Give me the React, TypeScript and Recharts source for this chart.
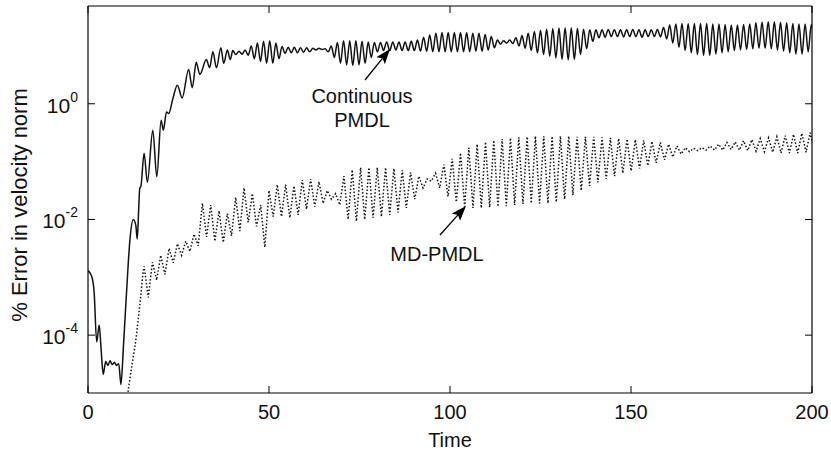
// App.tsx
import React from "react";
import { LineChart, Line, XAxis, YAxis } from "recharts";

const FONT = "'Liberation Sans', Arial, Helvetica, sans-serif";

const X_TICKS = [0, 50, 100, 150, 200];
const Y_TICKS = [1e-4, 1e-2, 1];
const Y_TICK_EXPONENTS: Record<string, string> = { "0.0001": "-4", "0.01": "-2", "1": "0" };

// Continuous PMDL — irregular start, read point by point
const contStartTimes = [
  0, 1.0, 1.7, 2.4, 3.1, 3.6, 4.2, 4.9, 5.5, 6.1, 6.7, 7.3, 7.9, 8.5, 9.1, 9.8, 10.7,
  11.6, 12.5, 13.2, 13.6, 14.0, 14.3, 14.6, 15.5, 16.4, 17.9, 19.0, 20.2, 20.8, 21.7,
  22.3, 23.4, 24.7, 26.0, 27.8, 28.8, 29.9, 30.9, 32.7, 33.6, 34.5, 35.5, 36.7, 37.5,
  38.5, 39.3,
];
const contStartValues = [
  1.3e-3, 1.05e-3, 5.5e-4, 7.6e-5, 1.5e-4, 6e-5, 2.1e-5, 3.5e-5, 3.0e-5, 3.6e-5, 3.1e-5,
  3.4e-5, 3.0e-5, 3.2e-5, 1.4e-5, 6.6e-5, 6.3e-4, 4.6e-3, 1.0e-2, 8e-3, 4.6e-3, 1.5e-2,
  3.5e-2, 3.7e-2, 0.14, 0.044, 0.35, 0.055, 0.52, 0.35, 0.72, 0.68, 1.2, 2.1, 1.26, 3.9,
  1.9, 5.2, 3.2, 5.8, 4.2, 7.9, 4.2, 9.3, 5.0, 8.5, 5.8,
];
// Continuous PMDL — steady oscillation, one peak and one trough per period
const CONT_OSC_START = 40;
const CONT_OSC_PERIOD = 1.7;
const contPeaks = [
  8.3, 8.1, 8.5, 10, 11.2, 12, 12.3, 11.2, 9.8, 9.5,
  9.5, 9.3, 9.3, 9.1, 9.1, 8.9, 10, 11.5, 12.3, 12.3,
  12.3, 12, 11.7, 11.5, 11.5, 11.7, 11.7, 11.7, 11.7, 12,
  12.6, 14.1, 15.5, 16.6, 17, 17, 17, 17, 17, 16.6,
  16.6, 15.8, 14.5, 12.6, 12.3, 12.6, 13.8, 15.1, 16.6, 17.8,
  18.6, 19.5, 20, 20.4, 20.4, 20.4, 20, 19.5, 19.1, 19.1,
  19.1, 19.3, 19.1, 19, 19.1, 19.3, 19.1, 19, 19.1, 19.3,
  20.9, 22.9, 24, 24.5, 24.5, 24.5, 24.5, 24.5, 24, 24,
  23.4, 22.9, 22.9, 23.4, 24, 25.1, 25.7, 26.3, 26.3, 25.7,
  25.1, 24.5, 24, 24, 23.4,
];
const contTroughs = [
  7.1, 7.2, 6.9, 6.0, 5.4, 5.0, 5.0, 6.0, 7.4, 7.6,
  7.6, 7.8, 7.9, 8.5, 8.7, 7.9, 6.3, 5.0, 4.7, 4.6,
  4.7, 5.0, 6.3, 7.9, 8.3, 8.3, 8.5, 8.3, 8.3, 8.3,
  8.1, 8.1, 7.9, 7.9, 7.9, 7.9, 7.9, 7.9, 7.9, 8.1,
  8.1, 8.5, 9.3, 10.7, 11.2, 11, 10, 9.1, 8.3, 7.6,
  7.1, 6.6, 6.2, 5.9, 5.75, 5.9, 7.1, 8.9, 12, 13.8,
  14.1, 14.5, 14.5, 14.3, 14.5, 14.5, 14.1, 14.5, 14.5, 14.3,
  13.2, 11.2, 9.5, 8.3, 7.6, 7.1, 6.9, 6.9, 7.2, 7.6,
  7.9, 8.3, 8.5, 8.7, 8.9, 9.1, 9.1, 8.9, 8.5, 8.1,
  7.6, 7.2, 7.2, 7.9, 9.1,
];

// MD-PMDL — rising start
const mdStartTimes = [10.5, 11.0, 12.05, 13.26, 14.4, 15.1];
const mdStartValues = [6e-6, 1.0e-5, 2.8e-5, 8.5e-5, 3.7e-4, 1.05e-3];
// MD-PMDL — oscillation
const MD_OSC_START = 15.5;
const MD_OSC_PERIOD = 2.3;
const mdPeaks = [
  1.55e-3, 1.82e-3, 2.4e-3, 3.16e-3, 3.8e-3, 4.2e-3, 5.6e-3, 0.019, 0.0178, 0.0141,
  0.0126, 0.024, 0.035, 0.028, 0.0178, 0.0316, 0.04, 0.04, 0.038, 0.048,
  0.05, 0.045, 0.0316, 0.028, 0.056, 0.072, 0.079, 0.079, 0.079, 0.079,
  0.076, 0.071, 0.065, 0.056, 0.05, 0.063, 0.089, 0.112, 0.141, 0.174,
  0.2, 0.219, 0.234, 0.245, 0.257, 0.263, 0.269, 0.275, 0.275, 0.275,
  0.275, 0.275, 0.269, 0.269, 0.269, 0.263, 0.257, 0.251, 0.245, 0.24,
  0.234, 0.224, 0.214, 0.2, 0.186, 0.174, 0.17, 0.174, 0.186, 0.2,
  0.214, 0.219, 0.229, 0.24, 0.251, 0.257, 0.269, 0.282, 0.295, 0.309,
  0.316,
];
const mdTroughs = [
  4.5e-4, 8.9e-4, 1.12e-3, 1.78e-3, 2.4e-3, 2.8e-3, 3.5e-3, 5.0e-3, 4.2e-3, 4.0e-3,
  5.2e-3, 6.3e-3, 8.9e-3, 7.6e-3, 3.3e-3, 0.0112, 0.0112, 0.0107, 0.012, 0.015,
  0.0166, 0.019, 0.0224, 0.0178, 0.01, 0.0093, 0.01, 0.0107, 0.0112, 0.012,
  0.0132, 0.0158, 0.0224, 0.035, 0.046, 0.035, 0.025, 0.02, 0.0166, 0.0158,
  0.0158, 0.0162, 0.0166, 0.017, 0.0178, 0.0186, 0.019, 0.019, 0.019, 0.02,
  0.0224, 0.0263, 0.0316, 0.038, 0.0437, 0.05, 0.056, 0.063, 0.069, 0.076,
  0.085, 0.095, 0.107, 0.12, 0.135, 0.148, 0.155, 0.158, 0.158, 0.158,
  0.162, 0.158, 0.155, 0.151, 0.148, 0.145, 0.141, 0.141, 0.141, 0.145,
  0.145,
];

type Pt = { t: number; v: number };

function buildSeries(
  times: number[],
  values: number[],
  start: number,
  period: number,
  peaks: number[],
  troughs: number[]
): Pt[] {
  const pts: Pt[] = times.map((t, i) => ({ t, v: values[i] }));
  peaks.forEach((p, k) => {
    const t0 = start + k * period;
    pts.push({ t: +t0.toFixed(3), v: p });
    pts.push({ t: +(t0 + period / 2).toFixed(3), v: troughs[k] });
  });
  return pts;
}

const contData = buildSeries(contStartTimes, contStartValues, CONT_OSC_START, CONT_OSC_PERIOD, contPeaks, contTroughs);
const mdData = buildSeries(mdStartTimes, mdStartValues, MD_OSC_START, MD_OSC_PERIOD, mdPeaks, mdTroughs);

const TICK_LEN = 7;

const BottomTick = (props: any) => {
  const { x, y, payload } = props;
  return (
    <g>
      <line x1={x} x2={x} y1={y} y2={y - TICK_LEN} stroke="#000" strokeWidth={1} />
      <text x={x} y={y + 26} textAnchor="middle" fontSize={20} fontFamily={FONT} fill="#111">
        {payload.value}
      </text>
    </g>
  );
};

const TopTick = (props: any) => {
  const { x, y } = props;
  return <line x1={x} x2={x} y1={y} y2={y + TICK_LEN} stroke="#000" strokeWidth={1} />;
};

const LeftTick = (props: any) => {
  const { x, y, payload } = props;
  const exp = Y_TICK_EXPONENTS[String(payload.value)];
  return (
    <g>
      <line x1={x} x2={x + TICK_LEN} y1={y} y2={y} stroke="#000" strokeWidth={1} />
      <text x={x - 10} y={y + 9} textAnchor="end" fontSize={21} fontFamily={FONT} fill="#111">
        10
        <tspan dy={-11} fontSize={14}>
          {exp}
        </tspan>
      </text>
    </g>
  );
};

const RightTick = (props: any) => {
  const { x, y } = props;
  return <line x1={x} x2={x - TICK_LEN} y1={y} y2={y} stroke="#000" strokeWidth={1} />;
};

function Arrow({ x1, y1, x2, y2 }: { x1: number; y1: number; x2: number; y2: number }) {
  const dx = x2 - x1;
  const dy = y2 - y1;
  const len = Math.hypot(dx, dy);
  const ux = dx / len;
  const uy = dy / len;
  const head = 15;
  const half = 5.5;
  const bx = x2 - ux * head;
  const by = y2 - uy * head;
  const pts = `${x2},${y2} ${bx - uy * half},${by + ux * half} ${bx + ux * 3},${by + uy * 3} ${bx + uy * half},${by - ux * half}`;
  return (
    <g>
      <line x1={x1} y1={y1} x2={bx + ux * 3} y2={by + uy * 3} stroke="#000" strokeWidth={1.3} />
      <polygon points={pts} fill="#000" />
    </g>
  );
}

export default function App() {
  return (
    <div style={{ position: "absolute", left: 0, top: 0, width: 831, height: 454, background: "#fff" }}>
      <LineChart width={831} height={454} margin={{ top: 5, right: 18, bottom: 0, left: 0 }}>
        <XAxis
          xAxisId="bottom"
          dataKey="t"
          type="number"
          domain={[0, 200]}
          ticks={X_TICKS}
          allowDataOverflow
          height={61}
          tickSize={0}
          tickMargin={0}
          tickLine={false}
          axisLine={{ stroke: "#000", strokeWidth: 1.2 }}
          tick={<BottomTick />}
        />
        <XAxis
          xAxisId="top"
          orientation="top"
          dataKey="t"
          type="number"
          domain={[0, 200]}
          ticks={X_TICKS}
          allowDataOverflow
          height={1}
          tickSize={0}
          tickMargin={0}
          tickLine={false}
          axisLine={{ stroke: "#000", strokeWidth: 1.2 }}
          tick={<TopTick />}
        />
        <YAxis
          yAxisId="left"
          scale="log"
          type="number"
          domain={[1e-5, 49]}
          ticks={Y_TICKS}
          allowDataOverflow
          width={88}
          tickSize={0}
          tickMargin={0}
          tickLine={false}
          axisLine={{ stroke: "#000", strokeWidth: 1.2 }}
          tick={<LeftTick />}
        />
        <YAxis
          yAxisId="right"
          orientation="right"
          scale="log"
          type="number"
          domain={[1e-5, 49]}
          ticks={Y_TICKS}
          allowDataOverflow
          width={1}
          tickSize={0}
          tickMargin={0}
          tickLine={false}
          axisLine={{ stroke: "#000", strokeWidth: 1.2 }}
          tick={<RightTick />}
        />
        {/* invisible copy so the top / right frame axes get registered */}
        <Line
          xAxisId="top"
          yAxisId="right"
          data={contData}
          dataKey="v"
          stroke="none"
          dot={false}
          activeDot={false}
          isAnimationActive={false}
        />
        <Line
          xAxisId="bottom"
          yAxisId="left"
          data={contData}
          dataKey="v"
          type="monotone"
          stroke="#111"
          strokeWidth={1.5}
          dot={false}
          activeDot={false}
          isAnimationActive={false}
        />
        <Line
          xAxisId="bottom"
          yAxisId="left"
          data={mdData}
          dataKey="v"
          type="linear"
          stroke="#111"
          strokeWidth={1.5}
          strokeDasharray="1.5 2"
          dot={false}
          activeDot={false}
          isAnimationActive={false}
        />
      </LineChart>
      <svg
        width={831}
        height={454}
        style={{ position: "absolute", left: 0, top: 0, pointerEvents: "none" }}
        fontFamily={FONT}
      >
        <text x={19} y={205} transform="rotate(-90 19 205)" textAnchor="middle" dominantBaseline="central" fontSize={22} fill="#111">
          % Error in velocity norm
        </text>
        <text x={450} y={447} textAnchor="middle" fontSize={20} fill="#111">
          Time
        </text>
        <text x={362} y={103} textAnchor="middle" fontSize={20} fill="#111">
          Continuous
        </text>
        <text x={362} y={127} textAnchor="middle" fontSize={20} fill="#111">
          PMDL
        </text>
        <Arrow x1={365} y1={80} x2={390} y2={49} />
        <text x={437} y={261} textAnchor="middle" fontSize={20} fill="#111">
          MD-PMDL
        </text>
        <Arrow x1={440} y1={235} x2={466} y2={206} />
      </svg>
    </div>
  );
}
